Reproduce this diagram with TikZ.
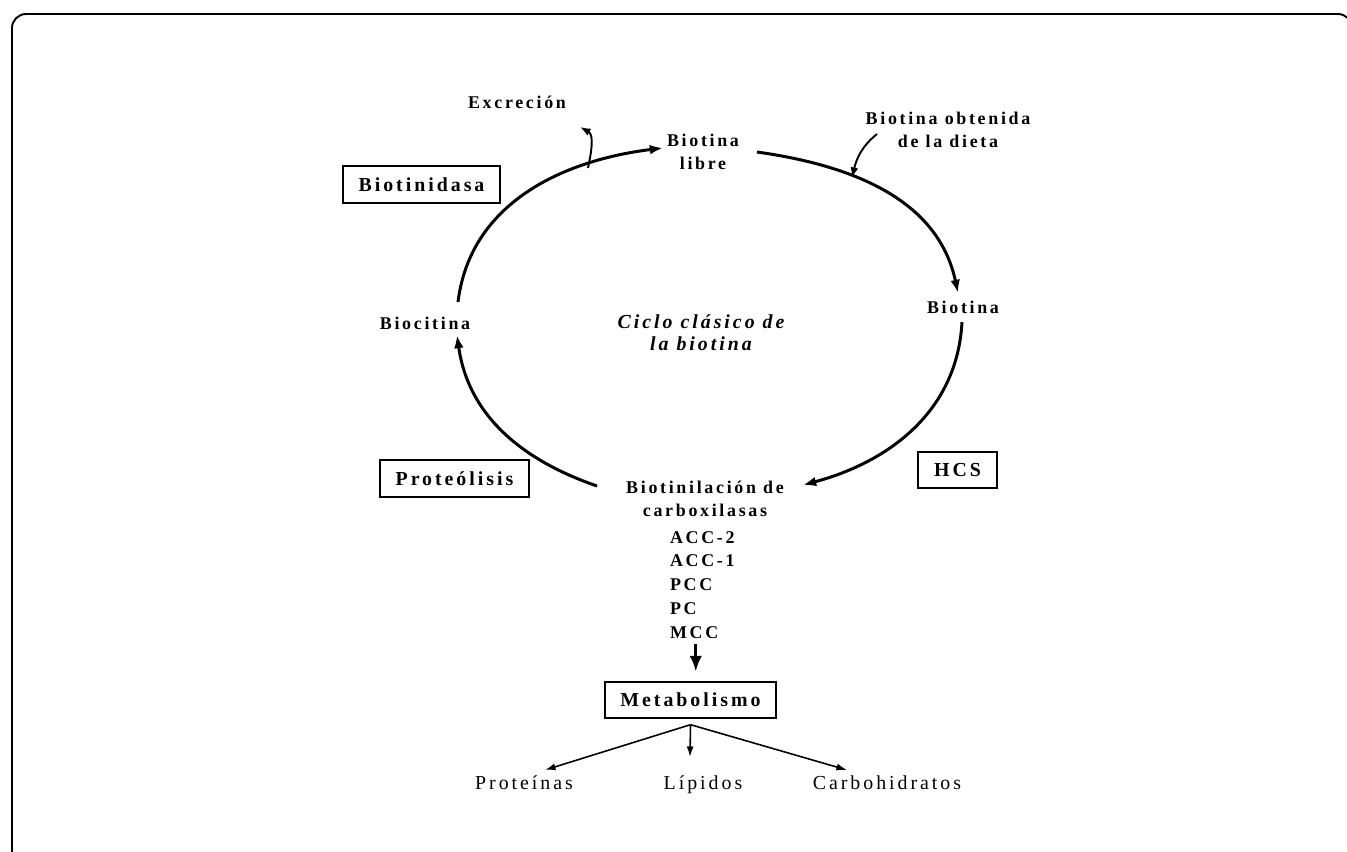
\documentclass[tikz,border=0pt]{standalone}
\usepackage{fontspec}
\setmainfont{Liberation Serif}
\newfontfamily\spaced[LetterSpace=15]{Liberation Serif}
\usetikzlibrary{arrows.meta}

\begin{document}
\begin{tikzpicture}[x=0.02cm, y=0.02cm,
  lbl/.style={font=\spaced\bfseries\fontsize{10.2}{13}\selectfont, inner sep=1pt, align=center},
  enzbox/.style={draw, line width=1.1pt, font=\spaced\bfseries\fontsize{11.3}{13}\selectfont, inner xsep=9pt, minimum height=21pt},
  prod/.style={font=\spaced\fontsize{11.3}{13}\selectfont, inner sep=1pt, anchor=base},
  cyc/.style={line width=1.7pt, -{Latex[length=7.5pt,width=5.5pt]}},
  side/.style={line width=1.1pt, -{Latex[length=6pt,width=4.5pt]}},
  fan/.style={line width=0.9pt, -{Latex[length=6pt,width=4pt]}}]
\useasboundingbox (0,0) rectangle (1347,-852);
\draw [line width=1.1pt, rounded corners=8] (12,-14) rectangle (1352,-864);

\node [lbl] (excr) at (517,-102) {Excreción};
\node [lbl] (libre) at (703,-152) {Biotina\\libre};
\node [lbl] (diet) at (948,-130) {Biotina obtenida\\de la dieta};
\node [enzbox] (bnd) at (421.5,-184.5) {Biotinidasa};
\node [lbl] (biocit) at (425,-323) {Biocitina};
\node [lbl, font=\spaced\bfseries\itshape\fontsize{11.3}{12.5}\selectfont] (ciclo) at (701,-333) {Ciclo clásico de\\la biotina};
\node [lbl] (bio) at (963,-307) {Biotina};
\node [enzbox] (proteo) at (454.5,-478.5) {Proteólisis};
\node [enzbox] (hcs) at (957.5,-470) {HCS};
\node [lbl] (bcarb) at (705,-499) {Biotinilación de\\carboxilasas};
\node [lbl, align=left, anchor=west, font=\spaced\bfseries\fontsize{10.2}{13.6}\selectfont] (enz) at (668,-585) {ACC-2\\ACC-1\\PCC\\PC\\MCC};
\node [enzbox] (metab) at (690.5,-700) {Metabolismo};
\node [prod] (prot) at (524,-789) {Proteínas};
\node [prod] (lip) at (703,-789) {Lípidos};
\node [prod] (carb) at (887,-789) {Carbohidratos};

\draw [cyc] ([shift={(33,21)}]biocit.center) to [out=83, in=187] ([shift={(-40,4)}]libre.center);
\draw [cyc] ([shift={(54,0)}]libre.center) to [out=-8, in=102] ([shift={(-5,14)}]bio.center);
\draw [cyc] ([shift={(-1,-15)}]bio.center) to [out=-93, in=15] ([shift={(98,14)}]bcarb.center);
\draw [cyc] ([shift={(-108,13)}]bcarb.center) to [out=161, in=-82] ([shift={(32,-12)}]biocit.center);

\coordinate (exc0) at (588,-168);
\coordinate (exc1) at (580,-127);
\draw [side] (exc0) to [out=78, in=-29] (exc1);
\coordinate (die0) at (877,-134);
\coordinate (die1) at (852,-178);
\draw [side] (die0) to [out=219, in=77] (die1);

\draw [line width=1.8pt, -{Latex[length=9pt,width=7pt]}, shorten <=2pt, shorten >=5pt] ([xshift=3pt]enz.south -| metab.north) -- ([xshift=3pt]metab.north);
\coordinate (hub) at ([yshift=-3pt]metab.south);
\draw [fan] (hub) -- ([shift={(21,19)}]prot.base);
\draw [fan] (hub) -- ([shift={(-13,32)}]lip.base);
\draw [fan] (hub) -- ([shift={(-40,19)}]carb.base);
\end{tikzpicture}
\end{document}
